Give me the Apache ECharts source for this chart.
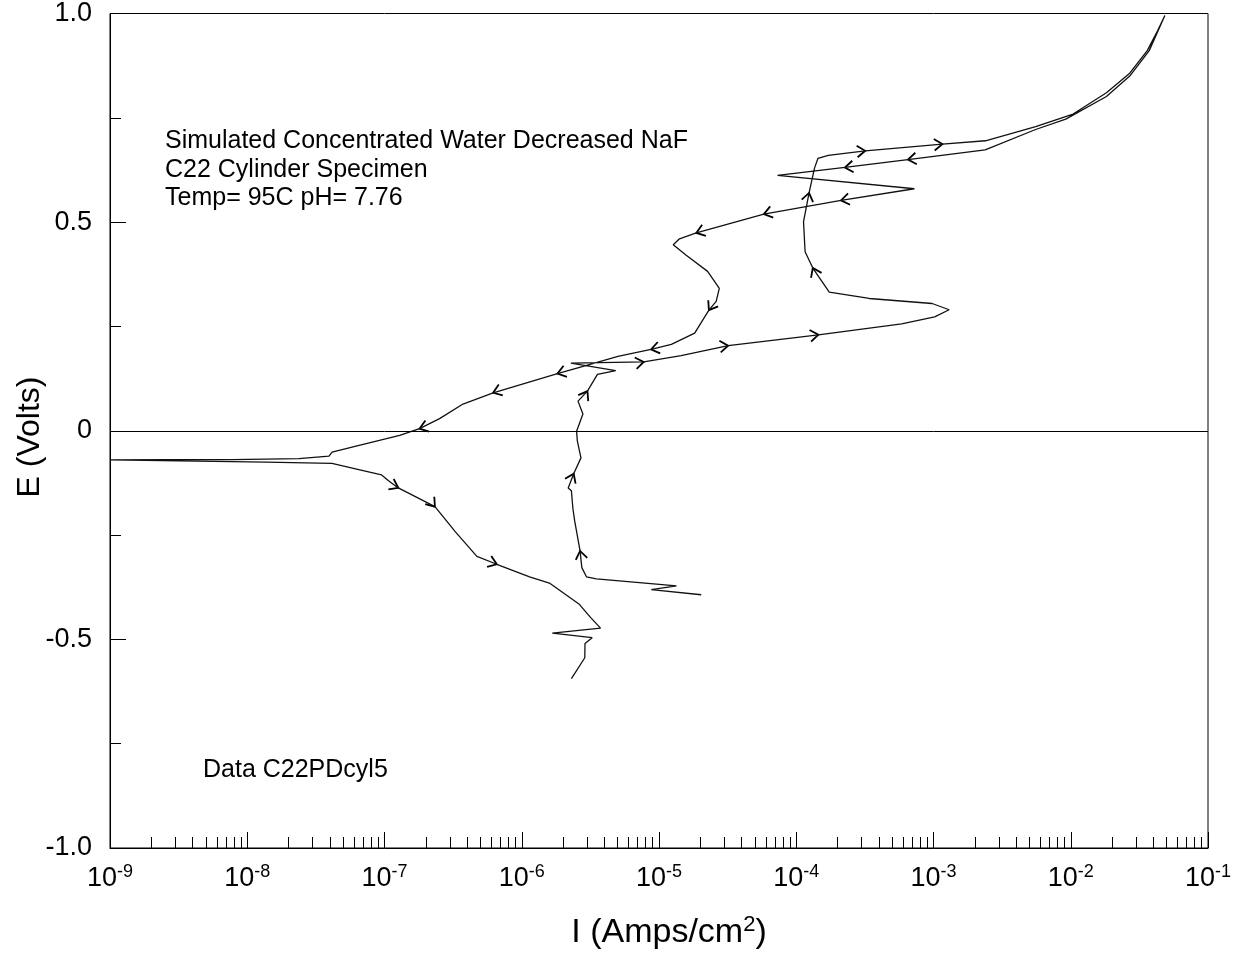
<!DOCTYPE html>
<html><head><meta charset="utf-8">
<script src="https://cdn.jsdelivr.net/npm/echarts@6/dist/echarts.min.js"></script>
<style>html,body{margin:0;padding:0;background:#fff}#c{width:1248px;height:957px}</style>
</head><body><div id="c"></div>
<script>
// Forward (anodic) scan: current (A/cm2) and potential (V)
const fwdI = [2.03e-5, 8.79e-6, 1.34e-5, 3.50e-6, 2.96e-6, 2.74e-6, 2.66e-6, 2.43e-6, 2.36e-6, 2.30e-6,
  2.18e-6, 2.39e-6, 2.70e-6, 2.54e-6, 2.51e-6, 2.79e-6, 2.57e-6, 3.01e-6, 3.56e-6, 4.84e-6,
  2.28e-6, 7.74e-6, 1.45e-5, 3.19e-5, 1.45e-4, 5.86e-4, 1.02e-3, 1.30e-3, 9.77e-4, 3.40e-4,
  1.74e-4, 1.32e-4, 1.16e-4, 1.13e-4, 1.24e-4, 1.29e-4, 1.36e-4, 1.44e-4, 1.71e-4, 3.18e-4,
  1.16e-3, 2.39e-3, 5.55e-3, 1.04e-2, 1.82e-2, 2.69e-2, 3.61e-2, 4.30e-2, 4.85e-2];
const fwdE = [-0.393, -0.381, -0.372, -0.355, -0.350, -0.328, -0.288, -0.216, -0.187, -0.144,
  -0.137, -0.103, -0.065, -0.024, -0.001, 0.040, 0.071, 0.095, 0.135, 0.144,
  0.162, 0.165, 0.180, 0.204, 0.230, 0.256, 0.273, 0.290, 0.305, 0.317,
  0.332, 0.390, 0.429, 0.501, 0.570, 0.596, 0.630, 0.653, 0.660, 0.671,
  0.687, 0.695, 0.729, 0.759, 0.810, 0.857, 0.911, 0.959, 0.995];
// Reverse scan
const revI = [4.85e-2, 3.73e-2, 2.69e-2, 1.82e-2, 9.20e-3, 5.55e-3, 2.38e-3, 6.52e-4, 2.26e-4, 7.31e-5,
  7.26e-4, 2.12e-4, 5.81e-5, 1.87e-5, 1.41e-5, 1.27e-5, 1.57e-5, 2.26e-5, 2.75e-5, 2.61e-5, 2.31e-5, 1.82e-5,
  1.23e-5, 8.75e-6, 5.02e-6, 2.84e-6, 1.82e-6, 6.19e-7, 3.73e-7, 2.52e-7, 1.80e-7, 1.29e-7,
  6.53e-8, 4.15e-8, 3.94e-8, 2.38e-8, 7.73e-9, 2.56e-9, 1.0e-9];
const revE = [0.995, 0.911, 0.850, 0.801, 0.747, 0.722, 0.673, 0.650, 0.631, 0.612,
  0.580, 0.552, 0.519, 0.474, 0.460, 0.446, 0.421, 0.382, 0.341, 0.310, 0.289, 0.234,
  0.207, 0.195, 0.178, 0.155, 0.137, 0.091, 0.064, 0.029, 0.005, -0.011,
  -0.035, -0.051, -0.061, -0.067, -0.069, -0.069, -0.070];
// Cathodic branch
const cathI = [1.0e-9, 1.37e-8, 4.14e-8, 6.49e-8, 9.53e-8, 1.07e-7, 1.26e-7, 2.33e-7, 3.03e-7, 3.24e-7,
  4.71e-7, 6.58e-7, 1.14e-6, 1.59e-6, 2.61e-6, 3.18e-6, 3.75e-6, 1.67e-6, 3.26e-6, 2.89e-6,
  2.88e-6, 2.30e-6];
const cathE = [-0.072, -0.075, -0.078, -0.093, -0.106, -0.120, -0.137, -0.182, -0.228, -0.240,
  -0.301, -0.320, -0.350, -0.365, -0.415, -0.448, -0.473, -0.485, -0.496, -0.510,
  -0.544, -0.594];
// Indices of points carrying a direction arrow
const fwdArrowIdx = [6, 11, 17, 21, 23, 24, 31, 34, 39, 40];
const revArrowIdx = [7, 8, 11, 12, 13, 20, 23, 26, 27, 30];
const cathArrowIdx = [6, 7, 11];
// Axis ticks
const decadeExponents = [-9, -8, -7, -6, -5, -4, -3, -2, -1];
const minorMultipliers = [2, 3, 4, 5, 6, 7, 8, 9];
const annotationLines = ['Simulated Concentrated Water Decreased NaF', 'C22 Cylinder Specimen', 'Temp= 95C pH= 7.76'];
const dataLabel = 'Data C22PDcyl5';

const FONT = 'Liberation Sans, Arial, sans-serif';
function zip(a, b) { return a.map((v, i) => [v, b[i]]); }
const lineData = zip(fwdI, fwdE).concat(zip(revI, revE), zip(cathI, cathE));
function arrowItems(I, E, idx) { return idx.map(i => [I[i], E[i], I[i + 1], E[i + 1]]); }
const arrowData = arrowItems(fwdI, fwdE, fwdArrowIdx).concat(arrowItems(revI, revE, revArrowIdx), arrowItems(cathI, cathE, cathArrowIdx));
const minorLog = [];
decadeExponents.slice(0, -1).forEach(e => minorMultipliers.forEach(m => minorLog.push(e + Math.log10(m))));

const chart = echarts.init(document.getElementById('c'));
chart.setOption({
  animation: false,
  backgroundColor: '#fff',
  textStyle: { fontFamily: FONT, color: '#000' },
  grid: { left: 110, top: 12, width: 1098, height: 836, show: true, borderColor: '#000', borderWidth: 1, backgroundColor: 'transparent' },
  xAxis: [{
    type: 'log', logBase: 10, min: 1e-9, max: 1e-1, splitNumber: 8, position: 'bottom',
    axisLine: { show: true, onZero: false, lineStyle: { color: '#000', width: 1 } },
    axisTick: { show: true, inside: true, length: 16, lineStyle: { color: '#000', width: 1 } },
    splitLine: { show: false }, minorTick: { show: false },
    axisLabel: {
      margin: 15,
      formatter: v => '{b|10}{s|' + Math.round(Math.log10(v)) + '}',
      rich: { b: { fontSize: 27, fontFamily: FONT, color: '#000' }, s: { fontSize: 18, fontFamily: FONT, color: '#000', padding: [0, 0, 14, 0] } }
    }
  }, {
    type: 'value', min: -9, max: -1, position: 'bottom',
    axisLine: { show: false, onZero: false }, axisLabel: { show: false }, splitLine: { show: false },
    axisTick: { show: true, inside: true, length: 11, customValues: minorLog, lineStyle: { color: '#000', width: 1 } }
  }],
  yAxis: {
    type: 'value', min: -1, max: 1, interval: 0.5,
    axisLine: { show: true, onZero: false, lineStyle: { color: '#000', width: 1 } },
    axisTick: { show: true, inside: true, length: 16, lineStyle: { color: '#000' } },
    minorTick: { show: true, splitNumber: 2, length: 11, lineStyle: { color: '#000' } },
    splitLine: { show: false },
    axisLabel: { margin: 18, fontSize: 27, color: '#000', fontFamily: FONT, formatter: v => v === 0 ? '0' : v.toFixed(1) }
  },
  series: [{
    type: 'line', xAxisIndex: 0, data: lineData, showSymbol: false, symbol: 'none', smooth: false,
    lineStyle: { color: '#111', width: 1.3 },
    markLine: { silent: true, symbol: 'none', label: { show: false }, lineStyle: { color: '#000', width: 1, type: 'solid' }, data: [{ yAxis: 0 }] }
  }, {
    type: 'custom', xAxisIndex: 0, data: arrowData, encode: { x: 0, y: 1 },
    renderItem: function (params, api) {
      const p = api.coord([api.value(0), api.value(1)]);
      const q = api.coord([api.value(2), api.value(3)]);
      const a = Math.atan2(q[1] - p[1], q[0] - p[0]);
      const L = 10, w = 0.62;
      return {
        type: 'polyline',
        shape: { points: [[p[0] - L * Math.cos(a - w), p[1] - L * Math.sin(a - w)], [p[0], p[1]], [p[0] - L * Math.cos(a + w), p[1] - L * Math.sin(a + w)]] },
        style: { stroke: '#000', lineWidth: 1.8, fill: null }
      };
    }
  }],
  graphic: [
    { type: 'text', style: { text: annotationLines.join('\n'), x: 165, y: 127, font: '25px ' + FONT, lineHeight: 28.5, fill: '#000', align: 'left', verticalAlign: 'top' } },
    { type: 'text', style: { text: dataLabel, x: 203, y: 770, font: '25px ' + FONT, fill: '#000', align: 'left', verticalAlign: 'middle' } },
    { type: 'text', x: 30, y: 437, rotation: Math.PI / 2, style: { text: 'E (Volts)', x: 0, y: 0, font: '32px ' + FONT, fill: '#000', align: 'center', verticalAlign: 'middle' } },
    { type: 'text', style: { text: '{b|I (Amps/cm}{s|2}{b|)}', x: 669, y: 933, align: 'center', verticalAlign: 'middle',
      rich: { b: { fontSize: 34, fontFamily: FONT, color: '#000' }, s: { fontSize: 22, fontFamily: FONT, color: '#000', padding: [0, 0, 16, 0] } } } }
  ]
});
</script></body></html>
